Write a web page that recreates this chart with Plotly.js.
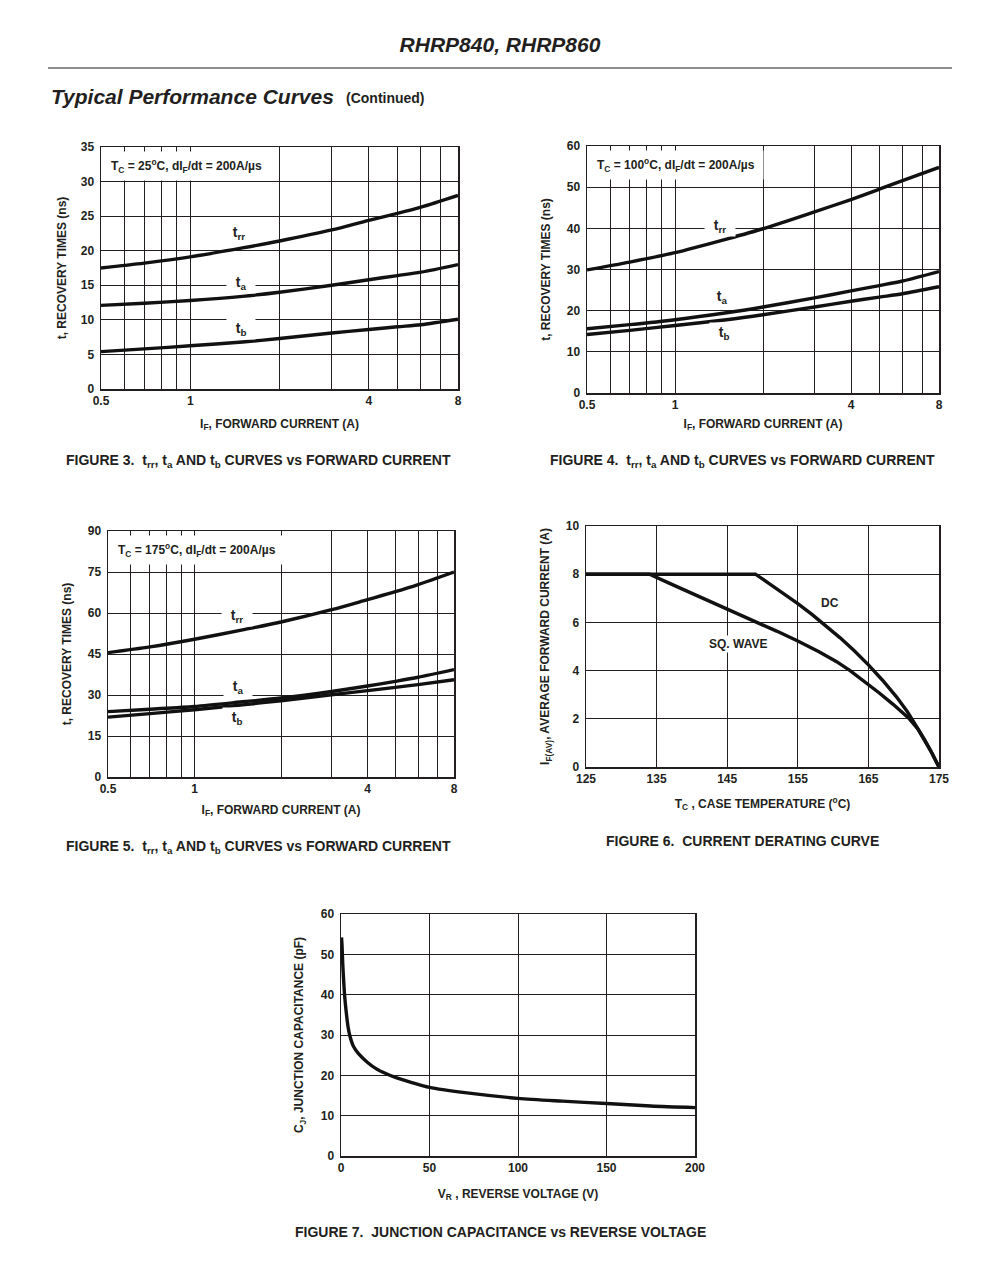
<!DOCTYPE html>
<html>
<head>
<meta charset="utf-8">
<script src="https://cdn.plot.ly/plotly-3.0.1.min.js"></script>
<style>
  html, body { margin: 0; padding: 0; background: #fff; }
  #chart { width: 996px; height: 1273px; }
</style>
</head>
<body>
<div id="chart"></div>
<script>
// ---------- DATA ----------
// Figures 3-5: forward current (A)
const forwardCurrent = [0.5, 0.7, 1, 1.5, 2, 3, 4, 5, 6, 8];

// Figure 3, Tc = 25 C
const trr25 = [17.5, 18.2, 19.1, 20.4, 21.4, 23.0, 24.4, 25.4, 26.3, 28.0];
const ta25  = [12.1, 12.4, 12.8, 13.4, 14.0, 15.0, 15.8, 16.4, 16.9, 18.0];
const tb25  = [5.4, 5.8, 6.25, 6.8, 7.3, 8.1, 8.6, 9.0, 9.3, 10.1];

// Figure 4, Tc = 100 C
const trr100 = [29.9, 31.8, 34.1, 37.4, 39.9, 44.0, 47.0, 49.5, 51.6, 54.8];
const ta100  = [15.6, 16.6, 17.8, 19.5, 20.9, 23.1, 24.8, 26.1, 27.2, 29.5];
const tb100  = [14.2, 15.2, 16.4, 17.8, 19.0, 20.9, 22.3, 23.3, 24.1, 25.8];

// Figure 5, Tc = 175 C
const trr175 = [45.5, 47.6, 50.4, 54.0, 56.7, 61.2, 64.9, 67.8, 70.4, 75.0];
const ta175  = [23.9, 24.8, 25.8, 27.6, 28.9, 31.3, 33.3, 35.0, 36.5, 39.3];
const tb175  = [21.9, 23.2, 24.6, 26.5, 27.9, 30.1, 31.6, 32.8, 33.8, 35.6];

// Figure 6, current derating
const tempDC = [125, 149, 151, 153, 155, 157, 159, 161, 163, 165, 167, 169, 170.5, 172, 173, 174, 174.6, 175];
const currDC = [8, 8, 7.6, 7.2, 6.78, 6.33, 5.86, 5.36, 4.82, 4.24, 3.6, 2.9, 2.3, 1.62, 1.12, 0.58, 0.22, 0];
const tempSQ = [125, 134, 137, 140, 143, 146, 149.2, 152, 155, 158, 160.5, 162.4, 164.5, 166.5, 168.5, 170.8, 172, 173, 174, 174.6, 175];
const currSQ = [8, 8, 7.6, 7.2, 6.8, 6.41, 6.0, 5.64, 5.23, 4.78, 4.37, 4.0, 3.55, 3.08, 2.6, 2.0, 1.58, 1.1, 0.57, 0.22, 0];

// Figure 7, junction capacitance
const reverseVoltage = [0.3, 0.6, 1, 1.5, 2, 3, 4, 5, 7, 10, 15, 20, 25, 30, 40, 50, 70, 100, 125, 150, 175, 200];
const junctionCap    = [54.2, 52, 47.5, 43.5, 40, 35.5, 32, 29.8, 27.2, 25.3, 23.2, 21.6, 20.5, 19.6, 18.2, 17.0, 15.7, 14.3, 13.6, 13.0, 12.4, 12.0];

// Tick labels / grid positions of the log axes
const logTickVals  = [0.5, 1, 4, 8];
const logTickText  = ['0.5', '1', '4', '8'];
const logMinorVals = [0.6, 0.7, 0.8, 0.9, 2, 3, 5, 6, 7];

// ---------- STYLE ----------
const FONT = 'Liberation Sans, Arial, Helvetica, sans-serif';
const INK = '#231f20';
const W = 996, H = 1273;
const px = v => v / W;
const py = v => 1 - v / H;

const curve = (x, y, xa, ya, shape) => ({
  x: x, y: y, xaxis: xa, yaxis: ya, type: 'scatter', mode: 'lines',
  line: {color: '#111', width: 3.4, shape: shape || 'spline', smoothing: 0.8},
  hoverinfo: 'skip', showlegend: false
});

const traces = [
  curve(forwardCurrent, trr25, 'x', 'y'),
  curve(forwardCurrent, ta25, 'x', 'y'),
  curve(forwardCurrent, tb25, 'x', 'y'),
  curve(forwardCurrent, trr100, 'x2', 'y2'),
  curve(forwardCurrent, ta100, 'x2', 'y2'),
  curve(forwardCurrent, tb100, 'x2', 'y2'),
  curve(forwardCurrent, trr175, 'x3', 'y3'),
  curve(forwardCurrent, ta175, 'x3', 'y3'),
  curve(forwardCurrent, tb175, 'x3', 'y3'),
  curve(tempDC, currDC, 'x4', 'y4', 'linear'),
  curve(tempSQ, currSQ, 'x4', 'y4', 'linear'),
  curve(reverseVoltage, junctionCap, 'x5', 'y5')
];

const baseAxis = {
  showline: true, linecolor: INK, linewidth: 1.5, mirror: true,
  showgrid: true, gridcolor: INK, gridwidth: 1,
  zeroline: false, ticks: '', fixedrange: true,
  tickfont: {family: FONT, size: 12, color: INK, weight: 'bold'},
  automargin: false
};

const titleFont = {family: FONT, size: 12, color: INK, weight: 'bold'};

const xLog = (domain, anchor, title, standoff) => Object.assign({}, baseAxis, {
  domain: domain, anchor: anchor, type: 'log',
  range: [Math.log10(0.5), Math.log10(8)],
  tickmode: 'array', tickvals: logTickVals, ticktext: logTickText,
  minor: {tickmode: 'array', tickvals: logMinorVals, showgrid: true,
          gridcolor: INK, gridwidth: 1, ticks: ''},
  title: {text: title, standoff: standoff, font: titleFont}
});
const yLin = (domain, anchor, range, dtick, title, standoff) => Object.assign({}, baseAxis, {
  domain: domain, anchor: anchor, range: range, dtick: dtick, tick0: 0,
  ticklabelstandoff: 3,
  title: {text: title, standoff: standoff, font: titleFont}
});
const xLin = (domain, anchor, range, dtick, title, standoff) => Object.assign({}, baseAxis, {
  domain: domain, anchor: anchor, range: range, dtick: dtick, tick0: range[0],
  title: {text: title, standoff: standoff, font: titleFont}
});

const IF_TITLE = 'I<sub>F</sub>, FORWARD CURRENT (A)';
const T_TITLE = 't, RECOVERY TIMES (ns)';

const txt = (text, x, y, xref, yref, opts) => Object.assign({
  text: text, x: x, y: y, xref: xref, yref: yref, showarrow: false,
  font: {family: FONT, size: 14, color: INK, weight: 'bold'},
  xanchor: 'center', yanchor: 'middle'
}, opts || {});

const nb = '\u00a0';
const labelOpts = {bgcolor: '#fff', borderpad: 1};

const condBox = (t, xref, yref) => txt(
  'T<sub>C</sub> = ' + t + '<sup>o</sup>C, dI<sub>F</sub>/dt = 200A/µs' + nb,
  0.012, 0.985, xref, yref,
  {xanchor: 'left', yanchor: 'top', bgcolor: '#fff', borderpad: 5,
   font: {family: FONT, size: 12, color: INK, weight: 'bold'}});

const caption = (text, xc, yc) => txt(text, px(xc), py(yc), 'paper', 'paper',
  {font: {family: FONT, size: 14, color: INK, weight: 'bold'}});

const annotations = [
  txt('<b><i>Typical Performance Curves</i></b>', px(49), py(96), 'paper', 'paper',
      {xanchor: 'left', font: {family: FONT, size: 21, color: INK}}),
  txt('(Continued)', px(344), py(98), 'paper', 'paper',
      {xanchor: 'left', font: {family: FONT, size: 14, color: INK, weight: 'bold'}}),

  condBox('25', 'x domain', 'y domain'),
  condBox('100', 'x2 domain', 'y2 domain'),
  condBox('175', 'x3 domain', 'y3 domain'),

  // Figure 3 curve labels
  txt(nb + nb + 't<sub>rr</sub>' + nb + nb, Math.log10(1.46), 22.6, 'x', 'y', labelOpts),
  txt(nb + nb + 't<sub>a</sub>' + nb + nb, Math.log10(1.48), 15.3, 'x', 'y', labelOpts),
  txt(nb + nb + 't<sub>b</sub>' + nb + nb, Math.log10(1.48), 8.7, 'x', 'y', labelOpts),
  // Figure 4
  txt(nb + nb + 't<sub>rr</sub>' + nb + nb, Math.log10(1.43), 40.6, 'x2', 'y2', labelOpts),
  txt(nb + nb + 't<sub>a</sub>' + nb + nb, Math.log10(1.45), 23.3, 'x2', 'y2', labelOpts),
  txt(nb + nb + 't<sub>b</sub>' + nb + nb, Math.log10(1.47), 14.6, 'x2', 'y2', labelOpts),
  // Figure 5
  txt(nb + nb + 't<sub>rr</sub>' + nb + nb, Math.log10(1.41), 58.9, 'x3', 'y3', labelOpts),
  txt(nb + nb + 't<sub>a</sub>' + nb + nb, Math.log10(1.42), 32.9, 'x3', 'y3', labelOpts),
  txt(nb + nb + 't<sub>b</sub>' + nb + nb, Math.log10(1.41), 21.6, 'x3', 'y3', labelOpts),
  // Figure 6
  txt('DC', 159.6, 6.8, 'x4', 'y4', {bgcolor: '#fff', borderpad: 1,
      font: {family: FONT, size: 12, color: INK, weight: 'bold'}}),
  txt('SQ. WAVE', 146.5, 5.1, 'x4', 'y4', {bgcolor: '#fff', borderpad: 1,
      font: {family: FONT, size: 12, color: INK, weight: 'bold'}}),

  caption('FIGURE 3.' + nb + nb + 't<sub>rr</sub>, t<sub>a</sub> AND t<sub>b</sub> CURVES vs FORWARD CURRENT', 258, 461),
  caption('FIGURE 4.' + nb + nb + 't<sub>rr</sub>, t<sub>a</sub> AND t<sub>b</sub> CURVES vs FORWARD CURRENT', 742, 461),
  caption('FIGURE 5.' + nb + nb + 't<sub>rr</sub>, t<sub>a</sub> AND t<sub>b</sub> CURVES vs FORWARD CURRENT', 258, 847),
  caption('FIGURE 6.' + nb + nb + 'CURRENT DERATING CURVE', 742, 841),
  caption('FIGURE 7.' + nb + nb + 'JUNCTION CAPACITANCE vs REVERSE VOLTAGE', 500, 1232)
];

const layout = {
  width: W, height: H,
  margin: {l: 0, r: 0, t: 0, b: 0, pad: 0},
  paper_bgcolor: '#fff', plot_bgcolor: '#fff',
  showlegend: false,
  font: {family: FONT, color: INK},
  title: {
    text: '<b><i>RHRP840, RHRP860</i></b>',
    x: 500 / W, xanchor: 'center', xref: 'paper',
    y: 1 - 45 / H, yanchor: 'middle', yref: 'container',
    font: {family: FONT, size: 21, color: INK}
  },
  xaxis: xLog([px(101), px(458)], 'y', IF_TITLE, 12),
  yaxis: yLin([py(389), py(147)], 'x', [0, 35], 5, T_TITLE, 11),
  xaxis2: xLog([px(587), px(939)], 'y2', IF_TITLE, 8),
  yaxis2: yLin([py(393), py(146)], 'x2', [0, 60], 10, T_TITLE, 13),
  xaxis3: xLog([px(108), px(454)], 'y3', IF_TITLE, 10),
  yaxis3: yLin([py(777), py(531)], 'x3', [0, 90], 15, T_TITLE, 13),
  xaxis4: xLin([px(586), px(939)], 'y4', [125, 175], 10, 'T<sub>C</sub> , CASE TEMPERATURE (<sup>o</sup>C)', 14),
  yaxis4: yLin([py(767), py(526)], 'x4', [0, 10], 2, 'I<sub>F(AV)</sub>, AVERAGE FORWARD CURRENT (A)', 13),
  xaxis5: xLin([px(341), px(695)], 'y5', [0, 200], 50, 'V<sub>R</sub> , REVERSE VOLTAGE (V)', 15),
  yaxis5: yLin([py(1156), py(914)], 'x5', [0, 60], 10, 'C<sub>J</sub>, JUNCTION CAPACITANCE (pF)', 14),
  shapes: [
    {type: 'line', xref: 'paper', yref: 'paper', x0: px(48), x1: px(952), y0: py(68), y1: py(68),
     line: {color: INK, width: 1}}
  ],
  annotations: annotations
};

Plotly.newPlot('chart', traces, layout, {displayModeBar: false, staticPlot: true});
</script>
</body>
</html>
